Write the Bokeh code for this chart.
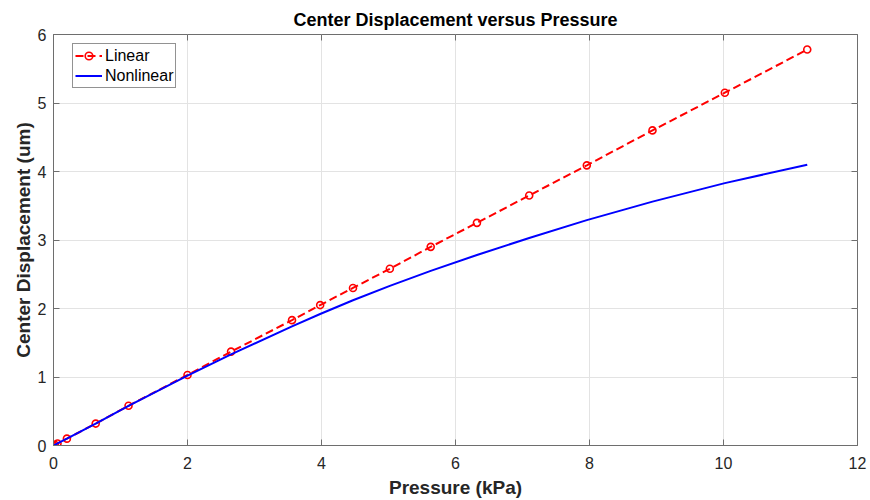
from bokeh.plotting import figure
from bokeh.models import Range1d, FixedTicker, LinearAxis, LegendItem, Legend
from bokeh.embed import file_html
from bokeh.resources import INLINE

# Data
pressure = [0.0, 0.02, 0.06, 0.2, 0.63, 1.12, 2.0, 2.65, 3.56, 3.98, 4.47, 5.02,
            5.63, 6.32, 7.1, 7.96, 8.94, 10.02, 11.25]
linear = [0.0, 0.01, 0.03, 0.10, 0.32, 0.58, 1.03, 1.37, 1.83, 2.05, 2.30, 2.58,
          2.90, 3.25, 3.65, 4.09, 4.60, 5.15, 5.78]
nonlinear = [0.0, 0.01, 0.03, 0.10, 0.32, 0.58, 1.02, 1.33, 1.74, 1.92, 2.12, 2.33,
             2.55, 2.78, 3.03, 3.29, 3.56, 3.83, 4.10]
x_ticks = [0, 2, 4, 6, 8, 10, 12]
y_ticks = [0, 1, 2, 3, 4, 5, 6]

FONT = "Liberation Sans"
AX = "#262626"
AXLINE = "#6e6e6e"

p = figure(width=870, height=500, output_backend="svg", toolbar_location=None,
           x_range=Range1d(0, 12), y_range=Range1d(0, 6),
           min_border_left=53, min_border_right=13, min_border_top=34, min_border_bottom=54)

p.title.text = "Center Displacement versus Pressure"
p.title.align = "center"
p.title.text_font = FONT
p.title.text_font_size = "18px"
p.title.text_font_style = "bold"
p.title.text_color = "#000000"
p.title.offset = 0
p.title.standoff = 9

p.outline_line_color = AXLINE
p.outline_line_width = 1
p.background_fill_color = "white"
p.border_fill_color = "white"

for g in (p.xgrid[0], p.ygrid[0]):
    g.grid_line_color = "#e3e3e3"
    g.grid_line_width = 1
p.xgrid[0].ticker = FixedTicker(ticks=x_ticks)
p.ygrid[0].ticker = FixedTicker(ticks=y_ticks)

xa = p.xaxis[0]
xa.ticker = FixedTicker(ticks=x_ticks)
ya = p.yaxis[0]
ya.ticker = FixedTicker(ticks=y_ticks)
for ax in (xa, ya):
    ax.axis_line_color = AXLINE
    ax.major_tick_line_color = AXLINE
    ax.major_tick_in = 6
    ax.major_tick_out = 0
    ax.minor_tick_line_color = None
    ax.major_label_text_font = FONT
    ax.major_label_text_font_size = "16px"
    ax.major_label_text_color = AX
    ax.axis_label_text_font = FONT
    ax.axis_label_text_font_size = "19px"
    ax.axis_label_text_font_style = "bold"
    ax.axis_label_text_color = AX
xa.axis_label = "Pressure (kPa)"
ya.axis_label = "Center Displacement (um)"
xa.major_label_standoff = 11
xa.axis_label_standoff = 5
ya.major_label_standoff = 7
ya.axis_label_standoff = 1

top = LinearAxis(ticker=FixedTicker(ticks=x_ticks), major_label_text_font_size="0px",
                 axis_line_color=None, major_tick_line_color=AXLINE,
                 major_tick_in=6, major_tick_out=0, minor_tick_line_color=None,
                 major_label_standoff=0)
right = LinearAxis(ticker=FixedTicker(ticks=y_ticks), major_label_text_font_size="0px",
                   axis_line_color=None, major_tick_line_color=AXLINE,
                   major_tick_in=6, major_tick_out=0, minor_tick_line_color=None,
                   major_label_standoff=0)
top.major_label_overrides = {t: "" for t in x_ticks}
right.major_label_overrides = {t: "" for t in y_ticks}
p.add_layout(top, "above")
p.add_layout(right, "right")

lin_line = p.line(pressure, linear, line_color="#ff0000", line_width=2, line_dash="8 4")
lin_pts = p.scatter(pressure, linear, marker="circle", size=7, fill_color=None,
                    line_color="#ff0000", line_width=1.6)
non_line = p.line(pressure, nonlinear, line_color="#0000ff", line_width=2)

legend = Legend(items=[LegendItem(label="Linear", renderers=[lin_line, lin_pts]),
                       LegendItem(label="Nonlinear", renderers=[non_line])],
                location=(19, 357))
legend.label_text_font = FONT
legend.label_text_font_size = "16px"
legend.label_text_color = "#000000"
legend.border_line_color = "#262626"
legend.border_line_width = 1
legend.margin = 0
legend.padding = 2
legend.spacing = 1
legend.glyph_width = 27
legend.label_standoff = 3
legend.label_height = 19
legend.glyph_height = 19
p.add_layout(legend)

open("out.html", "w").write(file_html(p, INLINE))
